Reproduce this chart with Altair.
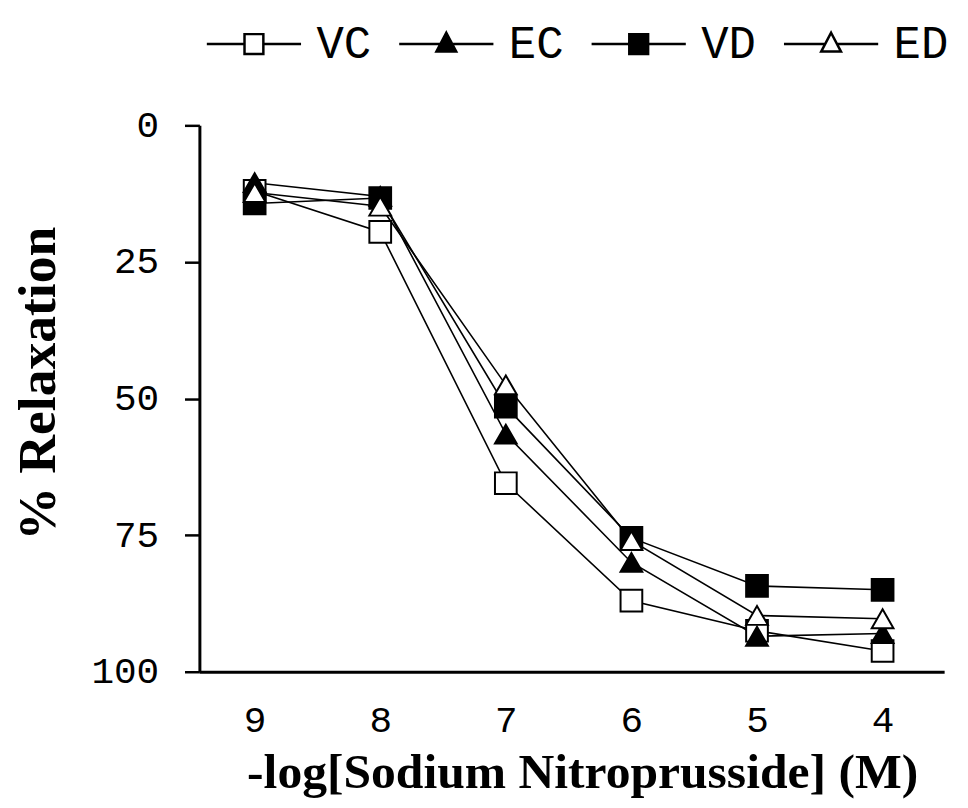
import altair as alt
import pandas as pd

# ---- data ----
log_conc = [9, 8, 7, 6, 5, 4]
series_names = ["VC", "EC", "VD", "ED"]
VC = [12, 19.5, 65.5, 87, 92.5, 96.2]
EC = [10.5, 13, 56.5, 80, 93.5, 93]
VD = [14.3, 13.3, 51.5, 75.5, 84.3, 85]
ED = [12.3, 14.8, 47.5, 76, 89.7, 90.3]
y_ticks = [0, 25, 50, 75, 100]

rows = []
for name, vals in zip(series_names, [VC, EC, VD, ED]):
    for xv, yv in zip(log_conc, vals):
        rows.append({"series": name, "x": xv, "y": yv})
df = pd.DataFrame(rows)

plot_shapes = ["square", "triangle-up", "square", "triangle-up"]
fills = ["white", "black", "black", "white"]
strokes = ["black", "black", "black", "black"]

sq = "M-0.2,-0.21H0.2V0.21H-0.2Z"
tri = "M0,-0.24L0.21,0.16L-0.21,0.16Z"
legend_shapes = [
    "M-1,0H-0.2M0.2,0H1" + sq,
    "M-1,0H-0.13M0.13,0H1" + tri,
    "M-1,0H-0.2M0.2,0H1" + sq,
    "M-1,0H-0.13M0.13,0H1" + tri,
]

xenc = alt.X(
    "x:Q",
    scale=alt.Scale(domain=[9.44, 3.51], nice=False, zero=False),
    axis=alt.Axis(
        values=log_conc, format="d", tickSize=0, grid=False,
        domainWidth=3, domainColor="black",
        labelFont="Liberation Mono", labelFontSize=38, labelColor="black",
        labelPadding=30,
        title="-log[Sodium Nitroprusside] (M)",
        titleFont="Liberation Serif", titleFontSize=50, titleFontWeight="bold",
        titleColor="black", titleX=386, titleY=102, titleBaseline="middle",
        titleAlign="center",
    ),
)
yenc = alt.Y(
    "y:Q",
    scale=alt.Scale(domain=[0, 100], reverse=True, nice=False),
    axis=alt.Axis(
        values=y_ticks, tickSize=15, tickWidth=2.5, tickColor="black", grid=False,
        domainWidth=3, domainColor="black",
        labelFont="Liberation Mono", labelFontSize=38, labelColor="black",
        labelPadding=26,
        title="% Relaxation",
        titleFont="Liberation Serif", titleFontSize=54, titleFontWeight="bold",
        titleColor="black", titleX=-162, titleY=260, titleAngle=-90,
        titleBaseline="middle", titleAlign="center",
    ),
)

base = alt.Chart(df)

lines = base.mark_line(color="black", strokeWidth=1.6).encode(
    x=xenc, y=yenc, detail="series:N", order="x:Q"
)

points = base.mark_point(
    filled=True, stroke="black", strokeWidth=2, opacity=1, size=480
).encode(
    x=xenc, y=yenc,
    shape=alt.Shape("series:N", scale=alt.Scale(domain=series_names, range=plot_shapes), legend=None),
    fill=alt.Fill("series:N", scale=alt.Scale(domain=series_names, range=fills), legend=None),
)

leg = alt.Legend(
    orient="none", legendX=6, legendY=-131, direction="horizontal", title=None,
    symbolSize=9025, symbolStrokeWidth=2.5, symbolStrokeColor="black",
    labelFont="Liberation Mono", labelFontSize=46, labelColor="black",
    labelOffset=14, columnPadding=22, padding=0,
)

legend_layer = base.transform_filter("datum.y < -1000").mark_point(
    filled=False, strokeWidth=2.5, opacity=1, size=9025
).encode(
    x=xenc, y=yenc,
    shape=alt.Shape("series:N", scale=alt.Scale(domain=series_names, range=legend_shapes), legend=leg),
    fill=alt.Fill("series:N", scale=alt.Scale(domain=series_names, range=fills), legend=leg),
    stroke=alt.Stroke("series:N", scale=alt.Scale(domain=series_names, range=strokes), legend=leg),
)

chart = (
    alt.layer(lines, points, legend_layer)
    .resolve_scale(shape="independent", fill="independent", stroke="independent")
    .properties(
        width=751, height=551,
        autosize=alt.AutoSizeParams(type="none"),
        padding={"left": 193, "top": 115, "right": 16, "bottom": 126},
        background="white",
    )
    .configure_view(stroke=None)
)

chart.save("out.html", embed_options={"renderer": "svg", "actions": False})
